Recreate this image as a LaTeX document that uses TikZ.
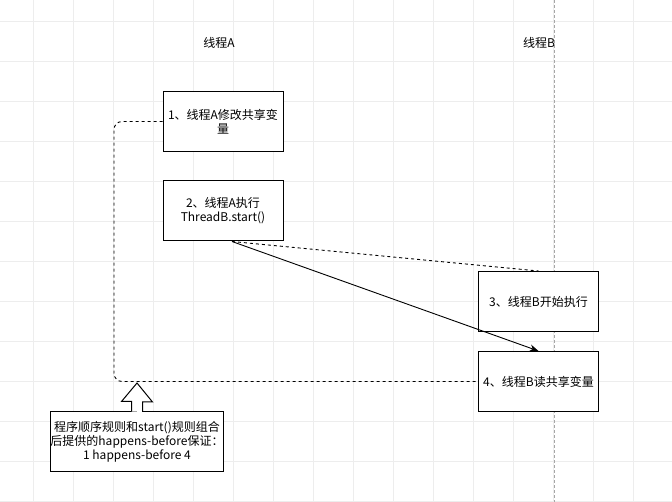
\documentclass[tikz,border=0pt]{standalone}
\usepackage{fontspec}
\setmainfont{Noto Sans CJK SC}
\usetikzlibrary{arrows.meta,calc}
\begin{document}
\begin{tikzpicture}[x=1pt,y=-1pt,
  every node/.style={font=\fontsize{12}{14}\selectfont},
  stepbox/.style={draw=black,fill=white,line width=1pt,minimum width=120pt,minimum height=60pt,align=center,inner sep=0pt},
  plainlbl/.style={inner sep=0pt},
  dashline/.style={line width=0.9pt,dash pattern=on 3pt off 3pt},
  gridline/.style={draw=black!7,line width=0.8pt},
  lifeline/.style={draw=black!35,line width=0.8pt,dash pattern=on 3pt off 2pt}
]
\useasboundingbox (0,0) rectangle (672,502);
\fill[white] (0,0) rectangle (672,502);
% grid
\foreach \gx in {33,73,...,633} {\draw[gridline] (\gx,0) -- (\gx,502);}
\foreach \gy in {21,61,...,501} {\draw[gridline] (0,\gy) -- (672,\gy);}
% lifeline of thread B
\coordinate (lt) at (554,0);
\coordinate (lb) at (554,502);
\draw[lifeline] (lt) -- (lb);
% labels
\node[plainlbl] (tA) at (219,43) {线程A};
\node[plainlbl] (tB) at (539,43) {线程B};
% boxes
\node[stepbox] (b1) at (223,121.5) {1、线程A修改共享变\\量};
\node[stepbox] (b2) at (223,211) {2、线程A执行\\ThreadB.start()};
\node[stepbox] (b3) at (538.5,301.5) {3、线程B开始执行};
\node[stepbox] (b4) at (538.5,381.5) {4、线程B读共享变量};
\node[stepbox,minimum width=172pt,minimum height=59pt] (b5) at (137,441.5) {程序顺序规则和start()规则组合\\后提供的happens-before保证：\\1 happens-before 4};
% connectors
\coordinate (s) at ($(b2.south)+(9,0)$);
\draw[dashline] (s) -- (b3.north);
\draw[line width=0.9pt,-{Stealth[length=9pt,width=7pt]}] (s) -- (b4.north);
\draw[dashline,rounded corners=8pt] (b1.west) -- (114,121.5) |- (b4.west);
% block arrow
\draw[fill=white,line width=1pt] (b5.north) ++(-5.5,0) -- ++(0,-10) -- ++(-10,0) -- (137,383) -- (152.5,402) -- ++(-10,0) -- ++(0,10);
\end{tikzpicture}
\end{document}
